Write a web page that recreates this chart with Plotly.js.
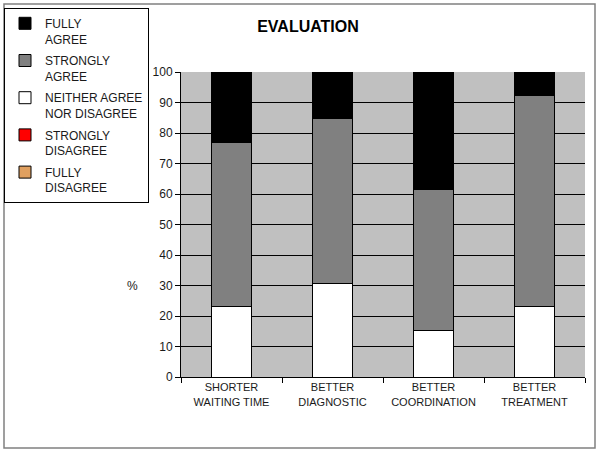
<!DOCTYPE html>
<html>
<head>
<meta charset="utf-8">
<script src="https://cdn.plot.ly/plotly-3.0.1.min.js"></script>
<style>
  html, body { margin: 0; padding: 0; background: #fff; }
  #chart { width: 600px; height: 450px; }
</style>
</head>
<body>
<div id="chart"></div>
<script>
const categories = ["SHORTER<br>WAITING TIME", "BETTER<br>DIAGNOSTIC", "BETTER<br>COORDINATION", "BETTER<br>TREATMENT"];
const fullyDisagree = [0, 0, 0, 0];
const stronglyDisagree = [0, 0, 0, 0];
const neither = [23.1, 30.8, 15.4, 23.1];
const stronglyAgree = [53.8, 53.8, 46.2, 69.2];
const fullyAgree = [23.1, 15.4, 38.5, 7.7];
const seriesNames = ["FULLY<br>DISAGREE", "STRONGLY<br>DISAGREE", "NEITHER AGREE<br>NOR DISAGREE", "STRONGLY<br>AGREE", "FULLY<br>AGREE"];
const seriesColors = ["#e0a060", "#ff0000", "#ffffff", "#808080", "#000000"];
const seriesValues = [fullyDisagree, stronglyDisagree, neither, stronglyAgree, fullyAgree];

const FONT = "Liberation Sans, Arial, sans-serif";

const traces = seriesValues.map((vals, i) => ({
  type: "bar",
  x: categories,
  y: vals,
  name: seriesNames[i],
  legendgroup: "g" + i,
  legendrank: 1000 + (seriesValues.length - i),
  marker: { color: seriesColors[i], line: { color: "#000", width: 1 } },
  hoverinfo: "skip"
}));

// plot area geometry (pixels) used for the frame shape
const L = 181, R = 15, T = 72, B = 73;
const W = 600 - L - R, H = 450 - T - B;
const px = v => (v - L) / W;
const py = v => (450 - B - v) / H;

const layout = {
  width: 600,
  height: 450,
  margin: { l: L, r: R, t: T, b: B },
  paper_bgcolor: "#ffffff",
  plot_bgcolor: "#c0c0c0",
  barmode: "stack",
  bargap: 0.6,
  font: { family: FONT, size: 12, color: "#1a1a1a" },
  title: {
    text: "<b>EVALUATION</b>",
    font: { family: FONT, size: 16, color: "#000" },
    x: 308 / 600, xref: "container", xanchor: "center",
    y: 1 - 26 / 450, yref: "container", yanchor: "middle"
  },
  showlegend: true,
  legend: {
    x: 4 / 600, xref: "container", xanchor: "left",
    y: 1 - 8 / 450, yref: "container", yanchor: "top",
    traceorder: "grouped",
    tracegroupgap: 3,
    valign: "top",
    bgcolor: "#ffffff",
    bordercolor: "#000000",
    borderwidth: 1,
    font: { family: FONT, size: 12, color: "#1a1a1a" },
    itemwidth: 30
  },
  xaxis: {
    type: "category",
    showline: true, linecolor: "#000", linewidth: 1,
    ticks: "outside", tickson: "boundaries", ticklen: 5, tickcolor: "#000",
    showgrid: false,
    tickfont: { family: FONT, size: 11, color: "#1a1a1a" },
    fixedrange: true
  },
  yaxis: {
    range: [0, 100],
    dtick: 10,
    showline: true, linecolor: "#000", linewidth: 1,
    ticks: "outside", ticklen: 5, tickcolor: "#000",
    showgrid: true, gridcolor: "#000", gridwidth: 1,
    zeroline: false,
    tickfont: { family: FONT, size: 12, color: "#1a1a1a" },
    fixedrange: true
  },
  annotations: [{
    text: "%",
    xref: "paper", yref: "y",
    x: px(132), y: 30, xanchor: "center", yanchor: "middle",
    showarrow: false,
    font: { family: FONT, size: 12, color: "#1a1a1a" }
  }],
  shapes: [{
    type: "rect", xref: "paper", yref: "paper",
    x0: px(4), x1: px(595), y0: py(448), y1: py(4),
    line: { color: "#808080", width: 1.5 },
    fillcolor: "rgba(0,0,0,0)",
    layer: "below"
  }]
};

Plotly.newPlot("chart", traces, layout, { displayModeBar: false, staticPlot: true });
</script>
</body>
</html>
